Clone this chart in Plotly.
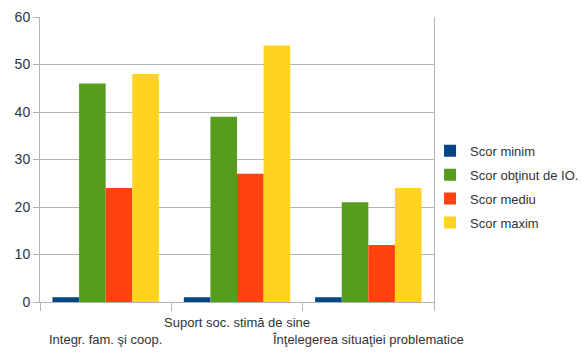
import plotly.graph_objects as go

categories = ["Integr. fam. şi coop.", "Suport soc. stimă de sine", "Înţelegerea situaţiei problematice"]
tick_labels = ["<br>Integr. fam. şi coop.", "Suport soc. stimă de sine", "<br>Înţelegerea situaţiei problematice"]
series_names = ["Scor minim", "Scor obţinut de IO.", "Scor mediu", "Scor maxim"]
scor_minim = [1, 1, 1]
scor_obtinut = [46, 39, 21]
scor_mediu = [24, 27, 12]
scor_maxim = [48, 54, 24]
colors = ["#004586", "#579d1c", "#ff420e", "#ffd320"]

FONT = "Liberation Sans, Arial, sans-serif"

fig = go.Figure()
for i, (name, vals) in enumerate(zip(series_names, [scor_minim, scor_obtinut, scor_mediu, scor_maxim])):
    fig.add_trace(go.Bar(
        x=categories, y=vals, name=name,
        marker=dict(color=colors[i], line=dict(width=0)),
        legendgroup=str(i),
    ))

fig.update_layout(
    width=581, height=354,
    margin=dict(l=40, r=147, t=17, b=52, autoexpand=False),
    plot_bgcolor="white", paper_bgcolor="white",
    barmode="group", bargap=0.19, bargroupgap=0,
    font=dict(family=FONT, size=13, color="#333333"),
    legend=dict(x=0.99, y=0.404, xanchor="left", yanchor="middle",
                bgcolor="rgba(0,0,0,0)",
                font=dict(family=FONT, size=13, color="#333333"),
                tracegroupgap=4, itemwidth=30),
    showlegend=True,
)
fig.update_xaxes(
    tickmode="array", tickvals=categories, ticktext=tick_labels, tickangle=0,
    tickson="boundaries", ticks="outside", ticklen=8, tickcolor="#b3b3b3",
    ticklabelstandoff=8,
    showline=True, linecolor="#b3b3b3", mirror=False, automargin=False,
    tickfont=dict(family=FONT, size=13, color="#333333"),
    showgrid=False,
)
fig.update_yaxes(
    range=[0, 60], dtick=10, ticks="outside", ticklen=6, tickcolor="#b3b3b3",
    showgrid=True, gridcolor="#b3b3b3", gridwidth=1,
    showline=True, linecolor="#b3b3b3", mirror=True, automargin=False,
    tickfont=dict(family=FONT, size=14, color="#333333"),
    zeroline=False,
)
fig.write_html("out.html")
